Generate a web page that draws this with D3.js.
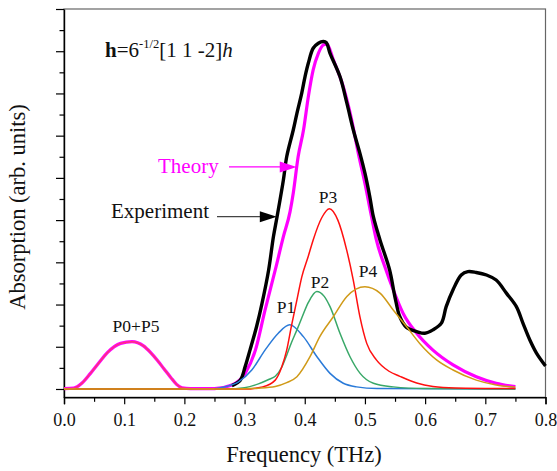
<html>
<head>
  <meta charset="utf-8">
  <title>Absorption spectrum</title>
  <script src="https://cdnjs.cloudflare.com/ajax/libs/d3/7.8.5/d3.min.js"></script>
  <style>
    body { margin: 0; background: #fff; }
    svg text { font-family: "Liberation Serif", "DejaVu Serif", "Noto Serif", serif !important; }
  </style>
</head>
<body>
  <svg></svg>
  <script>

// values: [frequency THz, absorption arb. units]
var experiment = [[0.279,0.08],[0.293,0.21],[0.301,0.53],[0.309,0.92],[0.32,1.48],[0.329,2.03],
  [0.34,2.82],[0.348,3.61],[0.354,4.08],[0.3645,4.95],[0.37,5.5],[0.381,6.14],[0.387,6.53],
  [0.395,7.01],[0.4005,7.4],[0.406,7.72],[0.414,8.07],[0.4226,8.19],[0.431,8.23],[0.436,8.2],
  [0.442,7.95],[0.4585,7.4],[0.47,6.77],[0.4806,6.14],[0.4917,5.58],[0.5,5.11],[0.508,4.56],
  [0.514,4.08],[0.525,3.53],[0.541,2.82],[0.5497,2.19],[0.558,1.71],[0.569,1.46],[0.586,1.36],
  [0.5995,1.32],[0.613,1.4],[0.627,1.56],[0.635,1.95],[0.6464,2.35],[0.66,2.7],[0.671,2.78],
  [0.685,2.76],[0.702,2.7],[0.718,2.58],[0.735,2.27],[0.7516,1.95],[0.7625,1.56],[0.774,1.16],
  [0.785,0.85],[0.8,0.545]];

var theory = [[0,0.01],[0.016,0.02],[0.03,0.14],[0.044,0.37],[0.058,0.62],[0.072,0.86],[0.094,1.08],
  [0.113,1.12],[0.132,1.02],[0.144,0.86],[0.155,0.68],[0.166,0.48],[0.177,0.28],[0.187,0.11],
  [0.196,0.03],[0.21,0.01],[0.25,0.01],[0.279,0.095],[0.301,0.37],[0.318,0.92],[0.334,1.87],
  [0.351,2.82],[0.3645,3.61],[0.3756,4.2],[0.381,4.65],[0.389,5.5],[0.398,6.14],[0.406,6.93],
  [0.414,7.56],[0.4226,7.95],[0.431,8.15],[0.437,8.17],[0.4474,7.8],[0.464,7.16],[0.478,6.37],
  [0.489,5.58],[0.5,4.87],[0.511,4.08],[0.519,3.53],[0.533,2.9],[0.547,2.35],[0.5635,1.79],
  [0.586,1.32],[0.613,0.92],[0.6464,0.57],[0.685,0.29],[0.718,0.135],[0.75,0.055]];

var p05 = [[0,0.01],[0.016,0.02],[0.03,0.14],[0.044,0.37],[0.058,0.62],[0.072,0.86],[0.094,1.08],
  [0.113,1.12],[0.132,1.02],[0.144,0.86],[0.155,0.68],[0.166,0.48],[0.177,0.28],[0.187,0.11],
  [0.196,0.03],[0.21,0.01],[0.25,0.0]];

var p1 = [[0,0],[0.24,0],[0.268,0.055],[0.29,0.17],[0.312,0.45],[0.334,0.92],[0.356,1.32],
  [0.375,1.52],[0.3977,1.24],[0.42,0.77],[0.442,0.37],[0.464,0.135],[0.486,0.05],[0.52,0.01],[0.75,0]];

var p2 = [[0,0],[0.27,0],[0.3,0.03],[0.323,0.12],[0.341,0.23],[0.351,0.3],[0.362,0.52],[0.37,0.8],
  [0.378,1.1],[0.387,1.4],[0.395,1.68],[0.406,2.05],[0.42,2.31],[0.432,2.2],[0.442,1.95],
  [0.4585,1.32],[0.475,0.77],[0.492,0.37],[0.514,0.135],[0.547,0.05],[0.6,0.01],[0.75,0]];

var p3 = [[0,0],[0.3,0],[0.33,0.05],[0.351,0.21],[0.362,0.53],[0.37,0.92],[0.378,1.5],
  [0.387,2.11],[0.395,2.65],[0.406,3.15],[0.414,3.53],[0.428,4.05],[0.441,4.27],[0.455,4.0],
  [0.4697,3.29],[0.4806,2.58],[0.4917,1.71],[0.503,1.08],[0.519,0.69],[0.54,0.42],[0.558,0.3],
  [0.586,0.14],[0.613,0.06],[0.65,0.025],[0.75,0.01]];

var p4 = [[0,0],[0.28,0],[0.323,0.02],[0.351,0.06],[0.37,0.15],[0.387,0.29],[0.409,0.77],
  [0.425,1.24],[0.4474,1.71],[0.47,2.19],[0.5,2.42],[0.525,2.27],[0.547,1.87],[0.569,1.48],
  [0.591,1.08],[0.619,0.69],[0.6464,0.45],[0.685,0.21],[0.718,0.095],[0.75,0.04]];

var peakLabels = ["P0+P5","P1","P2","P3","P4"];
var xTicks = [0,0.1,0.2,0.3,0.4,0.5,0.6,0.7,0.8];

var serif = '"Liberation Serif", "DejaVu Serif", serif';
var w = 557;
var h = 471;
var svg = d3.select("svg")
.attr("width",w)
.attr("height",h)
.attr("font-family",serif);

var x = d3.scaleLinear()
.domain([0,0.8])
.range([64,545.5]);

var y = d3.scaleLinear()
.domain([-0.197,9])
.range([397.3,9]);

// frame
svg.append("rect")
.attr("x",64).attr("y",9)
.attr("width",545.5-64).attr("height",397.3-9)
.attr("fill","none")
.attr("stroke","#666")
.attr("stroke-width",1.2);

// axes with minor ticks
var minorX = d3.range(0.05,0.8,0.1);
svg.append("g")
.attr("transform","translate(0,397.3)")
.call(d3.axisBottom(x).tickValues(minorX).tickSize(4.5).tickFormat(""))
.call(function(g){ g.select(".domain").remove(); g.selectAll("line").attr("stroke-width",1.2); });

var xa = svg.append("g")
.attr("transform","translate(0,397.3)")
.call(d3.axisBottom(x).tickValues(xTicks).tickSize(7).tickPadding(9).tickFormat(d3.format(".1f")));
xa.attr("font-family",serif);
xa.select(".domain").attr("stroke","#000").attr("stroke-width",1.4);
xa.selectAll("line").attr("stroke-width",1.2);
xa.selectAll("text").attr("font-size",18).attr("fill","#111");

svg.append("g")
.attr("transform","translate(64,0)")
.call(d3.axisLeft(y).tickValues(d3.range(0.5,9,1)).tickSize(4.5).tickFormat(""))
.call(function(g){ g.select(".domain").remove(); g.selectAll("line").attr("stroke-width",1.2); });

var ya = svg.append("g")
.attr("transform","translate(64,0)")
.call(d3.axisLeft(y).tickValues(d3.range(0,10,1)).tickSize(8).tickSizeOuter(0).tickFormat(""));
ya.select(".domain").attr("stroke","#000").attr("stroke-width",1.4);
ya.selectAll("line").attr("stroke-width",1.2);

// axis titles
svg.append("text")
.attr("x",304).attr("y",462)
.attr("text-anchor","middle")
.attr("font-size",22.5)
.attr("fill","#111")
.text("Frequency (THz)");

svg.append("text")
.attr("transform","translate(25,207) rotate(-90)")
.attr("text-anchor","middle")
.attr("font-size",22.5)
.attr("fill","#111")
.text("Absorption (arb. units)");

// curves
var line = d3.line()
.x(function(d) { return x(d[0]); })
.y(function(d) { return y(d[1]); })
.curve(d3.curveMonotoneX);

var rough = d3.line()
.x(function(d) { return x(d[0]); })
.y(function(d) { return y(d[1]); })
.curve(d3.curveCatmullRom.alpha(0.5));

svg.append("path").datum(theory)
.attr("d",line).attr("fill","none").attr("stroke","#ff00ff").attr("stroke-width",3.2);

svg.append("path").datum(experiment)
.attr("d",rough).attr("fill","none").attr("stroke","#000").attr("stroke-width",3.4)
.attr("stroke-linejoin","round");

var comps = [
  {data: p1, color: "#2a7ad8"},
  {data: p2, color: "#39a868"},
  {data: p3, color: "#ff1010"},
  {data: p05, color: "#ff3377"},
  {data: p4, color: "#d09a18"}
];
comps.forEach(function(c) {
  svg.append("path").datum(c.data)
  .attr("d",line).attr("fill","none").attr("stroke",c.color).attr("stroke-width",1.5);
});

// peak labels
var labelPos = [[136,332],[286,313],[320,288],[328,203],[368,277]];
svg.selectAll(".plab")
.data(peakLabels)
.enter()
.append("text")
.attr("class","plab")
.attr("x",function(d,i) { return labelPos[i][0]; })
.attr("y",function(d,i) { return labelPos[i][1]; })
.attr("text-anchor","middle")
.attr("font-size",17.5)
.attr("fill","#111")
.text(function(d) { return d; });

// legend with arrows
function arrow(x0, tip, lineColor, headColor) {
  var tx = x(tip[0]), ty = y(tip[1]);
  svg.append("line")
  .attr("x1",x0).attr("x2",tx-14).attr("y1",ty).attr("y2",ty)
  .attr("stroke",lineColor).attr("stroke-width",1.3);
  svg.append("path")
  .attr("d","M"+tx+","+ty+"L"+(tx-17)+","+(ty-5.5)+"L"+(tx-17)+","+(ty+5.5)+"Z")
  .attr("fill",headColor);
}
arrow(229,[0.3867,5.26],"#ff00ff","#ff00ff");
arrow(217,[0.3536,4.08],"#444","#000");

svg.append("text")
.attr("x",158).attr("y",173)
.attr("font-size",21)
.attr("fill","#ff00ff")
.text("Theory");

svg.append("text")
.attr("x",111).attr("y",218)
.attr("font-size",21)
.attr("fill","#111")
.text("Experiment");

// field direction note
var note = svg.append("text")
.attr("x",105).attr("y",57)
.attr("font-size",21)
.attr("fill","#111");
note.append("tspan").attr("font-weight","bold").text("h");
note.append("tspan").text("=6");
note.append("tspan").attr("font-size",12.5).attr("dy",-9).text("-1/2");
note.append("tspan").attr("dy",9).text("[1 1 -2]");
note.append("tspan").attr("font-style","italic").text("h");

  </script>
</body>
</html>
